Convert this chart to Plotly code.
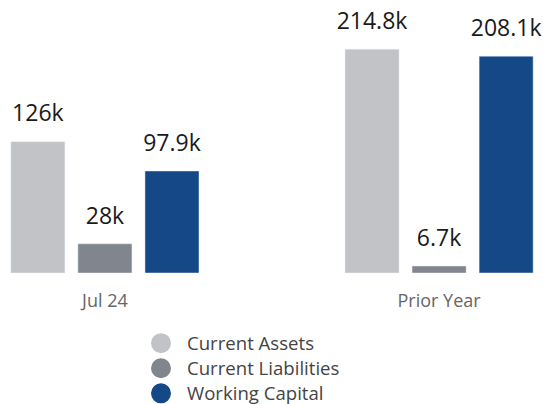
import plotly.graph_objects as go

categories = ["Jul 24", "Prior Year"]
series_names = ["Current Assets", "Current Liabilities", "Working Capital"]
current_assets = [126.0, 214.8]
current_liabilities = [28.0, 6.7]
working_capital = [97.9, 208.1]
series_colors = ["#c2c3c7", "#81858d", "#154886"]

series_values = [current_assets, current_liabilities, working_capital]

def fmt(v):
    return f"{v:g}k"

fig = go.Figure()
for name, vals, col in zip(series_names, series_values, series_colors):
    fig.add_trace(go.Bar(
        x=categories, y=vals, name=name, marker=dict(color=col),
        text=[fmt(v) for v in vals],
        texttemplate='<span style="font-size:23px">%{text}</span><br>\u00a0',
        textposition="outside", constraintext="none", cliponaxis=False,
        textfont=dict(family="Open Sans", size=11, color="#1a1a1a"),
        showlegend=False, hoverinfo="skip",
    ))
for name, col in zip(series_names, series_colors):
    fig.add_trace(go.Scatter(
        x=[None], y=[None], mode="markers",
        name=f'<span style="font-size:18.6px">{name}</span>',
        marker=dict(color=col, size=16, symbol="circle",
                    line=dict(color=col, width=4)),
    ))

fig.update_layout(
    width=543, height=404,
    margin=dict(l=0, r=0, t=0, b=131, autoexpand=False),
    paper_bgcolor="white", plot_bgcolor="white",
    barmode="group", bargap=0.398, bargroupgap=0.194,
    font=dict(family="Open Sans", color="#555"),
    xaxis=dict(type="category", range=[-0.314, 1.311], showgrid=False,
               zeroline=False, showline=False, ticks="", automargin=False,
               tickfont=dict(size=18, color="#666"), ticklabelstandoff=15),
    yaxis=dict(range=[0, 262], visible=False, automargin=False),
    legend=dict(orientation="v", x=0.2486, xanchor="left", y=-0.1927, yanchor="top",
                itemwidth=42,
                font=dict(size=17, color="#444"), bgcolor="rgba(0,0,0,0)"),
)
fig.write_html("out.html", config={"displayModeBar": False},
               post_script="document.body.style.margin='0';document.body.style.overflow='hidden';")
